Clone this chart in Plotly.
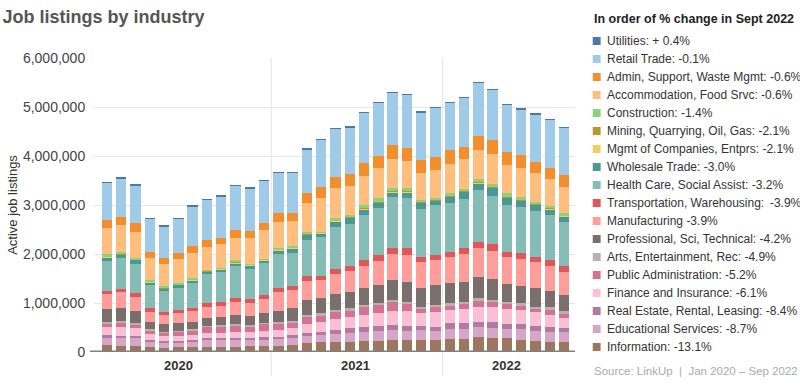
import plotly.graph_objects as go

# Months (Jan 2020 - Sep 2022)
months = [f"{m} {y}" for y in (2020, 2021, 2022)
          for m in ("Jan", "Feb", "Mar", "Apr", "May", "Jun", "Jul", "Aug", "Sep", "Oct", "Nov", "Dec")][:33]

# Values in thousands of active job listings
information = [143,129,122,96,88,96,96,102,108,112,122,122,129,133,178,210,210,210,231,231,245,245,245,245,265,265,300,292,280,245,231,210,195]
educational = [149,163,169,114,110,98,108,143,137,143,122,133,137,143,149,137,157,184,184,204,204,190,204,184,204,204,204,204,190,224,204,204,210]
real_estate = [55,41,41,35,33,37,41,35,41,41,41,51,47,61,55,55,82,90,90,96,102,102,88,88,116,116,114,110,102,96,102,90,90]
finance = [169,184,163,116,96,96,102,102,108,118,116,129,137,147,190,204,218,224,251,259,286,300,253,294,271,286,306,306,306,292,273,251,204]
public_admin = [69,86,76,73,61,82,92,129,131,127,118,137,129,122,149,149,155,149,157,169,184,157,102,102,102,122,116,102,102,102,82,122,94]
arts = [33,37,27,29,27,27,24,20,27,24,31,27,29,27,35,35,35,35,47,47,41,33,33,47,35,33,55,47,35,35,33,35,35]
professional = [253,253,245,155,157,151,155,169,169,190,184,192,237,259,306,306,320,339,341,361,408,408,388,408,408,408,429,429,367,353,376,333,327]
manufacturing = [312,327,273,204,184,204,218,224,218,271,265,292,376,373,388,373,414,429,461,490,537,545,518,510,531,565,604,578,551,545,531,510,476]
transportation = [67,67,82,69,67,67,67,82,88,82,82,82,82,88,102,82,102,102,116,122,116,137,114,102,114,116,122,137,114,122,114,122,122]
health_care = [606,633,598,482,428,455,510,580,606,647,618,647,694,673,735,790,851,851,918,953,1035,1020,973,1020,1000,1006,1055,986,953,951,933,918,898]
wholesale = [75,67,82,55,41,55,55,53,51,55,69,61,73,96,102,82,129,129,122,114,102,122,129,88,122,149,137,157,149,122,122,116,116]
mgmt_companies = [12,12,13,13,13,13,13,13,13,12,12,12,12,12,11,11,11,11,10,10,10,10,10,10,10,10,10,10,10,10,10,10,10]
mining = [6,6,5,5,5,5,5,5,5,6,6,6,6,6,7,7,7,7,8,8,8,8,8,8,8,8,8,8,8,8,8,8,8]
construction = [49,43,29,23,37,17,17,17,19,49,12,12,31,23,43,15,37,37,64,72,70,64,37,31,51,37,70,58,72,64,49,49,58]
accommodation = [524,545,518,443,455,490,510,463,484,455,531,578,543,510,586,682,612,592,592,612,598,563,545,578,592,606,592,618,578,592,580,551,522]
admin_support = [169,169,184,122,110,122,149,149,129,157,149,157,171,157,204,224,224,239,271,251,273,265,271,271,292,257,286,286,259,259,237,231,239]
retail = [761,782,780,686,657,706,814,822,849,910,863,853,829,829,894,971,992,963,1020,1088,1073,1082,978,1000,965,1000,1088,1027,971,931,971,980,971]
utilities = [8,8,8,7,7,7,8,8,8,8,8,8,8,8,9,9,9,9,9,9,9,9,9,9,9,9,9,9,9,9,9,9,9]

# Legend order (top to bottom) = reverse of stacking order
legend_labels = [
    "Utilities: + 0.4%",
    "Retail Trade: -0.1%",
    "Admin, Support, Waste Mgmt: -0.6%",
    "Accommodation, Food Srvc: -0.6%",
    "Construction: -1.4%",
    "Mining, Quarrying, Oil, Gas: -2.1%",
    "Mgmt of Companies, Entprs: -2.1%",
    "Wholesale Trade: -3.0%",
    "Health Care, Social Assist: -3.2%",
    "Transportation, Warehousing: \u2009-3.9%",
    "Manufacturing -3.9%",
    "Professional, Sci, Technical: -4.2%",
    "Arts, Entertainment, Rec: -4.9%",
    "Public Administration: -5.2%",
    "Finance and Insurance: -6.1%",
    "Real Estate, Rental, Leasing: -8.4%",
    "Educational Services: -8.7%",
    "Information: -13.1%",
]
legend_series = [utilities, retail, admin_support, accommodation, construction, mining,
                 mgmt_companies, wholesale, health_care, transportation, manufacturing,
                 professional, arts, public_admin, finance, real_estate, educational, information]
colors = ["#4e79a7", "#a0cbe8", "#f28e2b", "#ffbe7d", "#8cd17d", "#b6992d", "#f1ce63",
          "#499894", "#86bcb6", "#e15759", "#ff9d9a", "#79706e", "#bab0ac", "#d37295",
          "#fabfd2", "#b07aa1", "#d4a6c8", "#9d7660"]

years = ["2020", "2021", "2022"]
year_centers = [5.0, 17.4, 28.0]
year_breaks = [11.5, 23.5]

FONT = "Helvetica Neue, Helvetica, Arial, Liberation Sans, sans-serif"

fig = go.Figure()
for label, vals, col in reversed(list(zip(legend_labels, legend_series, colors))):
    fig.add_trace(go.Bar(
        x=months, y=[v * 1000 for v in vals], name=label,
        marker=dict(color=col, line=dict(width=0)), showlegend=False,
    ))

# plot area geometry (pixels) for placing the hand-drawn legend
W, H = 800, 387
L, R, T, B = 87, 225, 58, 35
pw, ph = W - L - R, H - T - B


def px_x(px):
    return (px - L) / pw


def px_y(py):
    return (H - B - py) / ph


shapes = []
annotations = []

# year dividers
for xb in year_breaks:
    shapes.append(dict(type="line", xref="x", yref="paper", x0=xb, x1=xb,
                       y0=px_y(376), y1=1, line=dict(color="#e3e3e3", width=1), layer="below"))
# baseline
shapes.append(dict(type="line", xref="paper", yref="y", x0=px_x(83), x1=px_x(575),
                   y0=0, y1=0, line=dict(color="#808080", width=3)))

for yr, xc in zip(years, year_centers):
    annotations.append(dict(x=xc, xref="x", y=px_y(365), yref="paper", text=f"<b>{yr}</b>",
                            showarrow=False, font=dict(size=13, color="#333", family=FONT),
                            xanchor="center", yanchor="middle"))

# legend
annotations.append(dict(x=px_x(592), y=px_y(19), xref="paper", yref="paper",
                        text="<b>In order of % change in Sept 2022</b>", showarrow=False,
                        xanchor="left", yanchor="middle",
                        font=dict(size=12.5, color="#222", family=FONT)))
for i, (label, col) in enumerate(zip(legend_labels, colors)):
    cy = 41 + 18 * i
    shapes.append(dict(type="rect", xref="paper", yref="paper",
                       x0=px_x(593), x1=px_x(601), y0=px_y(cy + 4), y1=px_y(cy - 4),
                       fillcolor=col, line=dict(width=0)))
    annotations.append(dict(x=px_x(605), y=px_y(cy), xref="paper", yref="paper",
                            text=label, showarrow=False, xanchor="left", yanchor="middle",
                            font=dict(size=12, color="#333", family=FONT)))
annotations.append(dict(x=px_x(592), y=px_y(371), xref="paper", yref="paper",
                        text="Source: LinkUp  |  Jan 2020 – Sep 2022", showarrow=False,
                        xanchor="left", yanchor="middle",
                        font=dict(size=11.5, color="#aaa", family=FONT)))

fig.update_layout(
    width=W, height=H,
    margin=dict(l=L, r=R, t=T, b=B, pad=0),
    barmode="stack", bargap=0.27,
    plot_bgcolor="white", paper_bgcolor="white",
    font=dict(family=FONT, color="#444"),
    title=dict(text="<b>Job listings by industry</b>", x=0.003, xanchor="left",
               xref="container", y=1 - 17 / H, yref="container", yanchor="middle",
               font=dict(size=18, color="#555", family=FONT)),
    xaxis=dict(type="category", range=[-0.9, 32.76], showticklabels=False,
               showgrid=False, zeroline=False, showline=False, ticks=""),
    yaxis=dict(range=[0, 6_000_000], dtick=1_000_000, tickformat=",",
               showgrid=True, gridcolor="#e6e6e6", gridwidth=1, zeroline=False,
               ticks="outside", ticklen=5, tickcolor="rgba(0,0,0,0)",
               tickfont=dict(size=14, color="#444", family=FONT),
               title=dict(text="Active job listings", standoff=2,
                          font=dict(size=13, color="#333", family=FONT))),
    shapes=shapes, annotations=annotations,
    showlegend=False,
)

fig.write_html("out.html", config={"displayModeBar": False},
               post_script="document.body.style.margin='0';document.body.style.overflow='hidden';")
